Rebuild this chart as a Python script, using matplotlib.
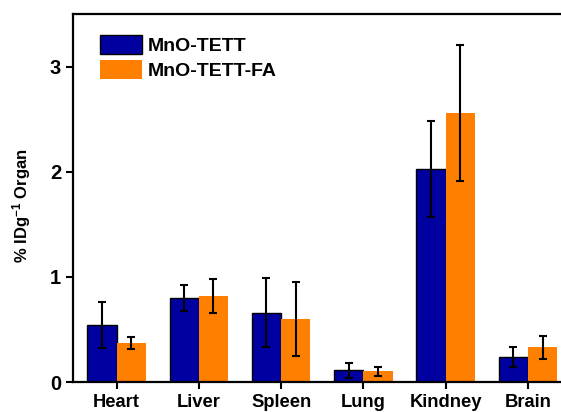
import matplotlib
matplotlib.use("Agg")
import matplotlib.pyplot as plt
import numpy as np

plt.rcParams['font.family'] = ['Liberation Sans', 'DejaVu Sans']
plt.rcParams['font.weight'] = 'bold'
plt.rcParams['mathtext.fontset'] = 'custom'
plt.rcParams['mathtext.bf'] = 'Liberation Sans:bold'
plt.rcParams['mathtext.rm'] = 'Liberation Sans:bold'
plt.rcParams['mathtext.default'] = 'bf'

organs = ["Heart", "Liver", "Spleen", "Lung", "Kindney", "Brain"]
tett = [0.54, 0.80, 0.66, 0.11, 2.03, 0.24]
tett_err = [0.22, 0.127, 0.326, 0.07, 0.457, 0.095]
tett_fa = [0.37, 0.82, 0.60, 0.10, 2.56, 0.33]
tett_fa_err = [0.057, 0.16, 0.35, 0.043, 0.65, 0.108]

fig = plt.figure(figsize=(5.61, 4.12), dpi=100)
ax = fig.add_axes([0.130, 0.0728, 0.889, 0.893])

x = np.arange(len(organs))
w = 0.356
ax.bar(x - w/2, tett, w, color="#0000A0", edgecolor="black", linewidth=1.0,
       label="MnO-TETT")
ax.bar(x + w/2, tett_fa, w, color="#FF8000", edgecolor="#FF8000", linewidth=0,
       label="MnO-TETT-FA")
ax.errorbar(x - w/2, tett, yerr=tett_err, fmt="none", ecolor="black",
            elinewidth=1.5, capsize=3, capthick=1.5)
ax.errorbar(x + w/2, tett_fa, yerr=tett_fa_err, fmt="none", ecolor="black",
            elinewidth=1.5, capsize=3, capthick=1.5)

ax.set_xlim(-0.53, 5.53)
ax.set_ylim(0, 3.5)
ax.set_xticks(x)
ax.set_xticklabels(organs, fontsize=13.2, fontweight="bold")
ax.set_yticks([0, 1, 2, 3])
ax.set_yticklabels(["0", "1", "2", "3"], fontsize=14.5, fontweight="bold")
ax.set_ylabel("% IDg$^{-1}$ Organ", fontsize=12, fontweight="bold")
ax.yaxis.set_label_coords(-0.080, 0.48)
for s in ax.spines.values():
    s.set_linewidth(1.6)
ax.tick_params(axis="both", direction="out", width=1.5, length=5)
ax.tick_params(axis="x", pad=3.5)
ax.tick_params(axis="y", pad=3.5)

leg = ax.legend(loc="upper left", bbox_to_anchor=(0.054, 0.942), frameon=False,
                fontsize=14, handlelength=2.16, handleheight=1.1,
                handletextpad=0.3, labelspacing=0.25, borderaxespad=0,
                borderpad=0)
for t in leg.get_texts():
    t.set_fontweight("bold")

fig.savefig("out.png", dpi=100)
